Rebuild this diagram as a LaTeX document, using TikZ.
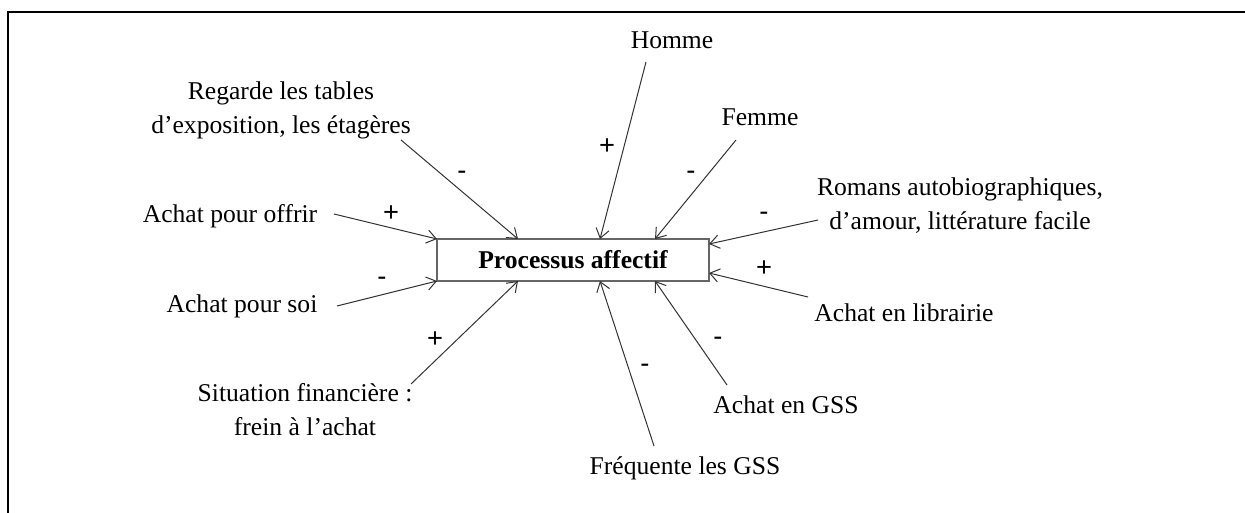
\documentclass[tikz,border=0pt]{standalone}
\usepackage{fontspec}
\setmainfont{Liberation Serif}
\newfontfamily\signfont{Liberation Sans}
\usetikzlibrary{arrows.meta}
\begin{document}
\begin{tikzpicture}[x=0.75pt,y=-0.75pt,
  lbl/.style={font=\fontsize{19.2}{25.5}\selectfont, align=center, inner sep=0pt},
  sgn/.style={font=\signfont\fontsize{20.5}{21}\selectfont, inner sep=0pt},
  link/.style={draw=black!80, line width=0.75pt, -{Straight Barb[length=7pt,width=10pt]}},
  ]
\useasboundingbox (0,0) rectangle (1245,513);
\draw[line width=1.5pt] (8,513) -- (8,12) -- (1245,12);

\node[draw=black!60, line width=1pt, minimum width=204pt, minimum height=31.5pt, inner sep=0pt,
  font=\fontsize{19.2}{22}\selectfont\bfseries] (box) at (573,260) {Processus affectif};

% end points on the box
\coordinate (eHomme) at (600,239);
\coordinate (eFemme) at (655,239);
\coordinate (eRegarde) at (518,239);
\coordinate (eOffrir) at (437,239);
\coordinate (eSoi) at (437,281);
\coordinate (eSit) at (518,281);
\coordinate (eFreq) at (600,281);
\coordinate (eGSS) at (655,281);
\coordinate (eLib) at (709,273);
\coordinate (eRom) at (709,244);

% texts
\node[lbl] (homme) at (672,40) {Homme};
\node[lbl] (femme) at (760,117) {Femme};
\node[lbl] (regarde) at (281,110) {Regarde les tables\\d'exposition, les étagères};
\node[lbl] (offrir) at (230,216) {Achat pour offrir};
\node[lbl] (soi) at (242,306) {Achat pour soi};
\node[lbl] (sit) at (305,410) {Situation financière :\\frein à l'achat};
\node[lbl] (freq) at (685,468) {Fréquente les GSS};
\node[lbl] (gss) at (786,405) {Achat en GSS};
\node[lbl] (lib) at (904,313) {Achat en librairie};
\node[lbl] (rom) at (960,206) {Romans autobiographiques,\\d'amour, littérature facile};

% start points
\coordinate (sHomme) at (646,62);
\coordinate (sFemme) at (736,140);
\coordinate (sRegarde) at (401,140);
\coordinate (sOffrir) at (334,214);
\coordinate (sSoi) at (337,306);
\coordinate (sSit) at (411,384);
\coordinate (sFreq) at (654,446);
\coordinate (sGSS) at (727,385);
\coordinate (sLib) at (808,297);
\coordinate (sRom) at (818,220);

\draw[link] (sHomme) -- (eHomme);
\draw[link] (sFemme) -- (eFemme);
\draw[link] (sRegarde) -- (eRegarde);
\draw[link] (sOffrir) -- (eOffrir);
\draw[link] (sSoi) -- (eSoi);
\draw[link] (sSit) -- (eSit);
\draw[link] (sFreq) -- (eFreq);
\draw[link] (sGSS) -- (eGSS);
\draw[link] (sLib) -- (eLib);
\draw[link] (sRom) -- (eRom);

% signs
\node[sgn] (pHomme) at (607,147) {+};
\node[sgn] (pFemme) at (691,175) {-};
\node[sgn] (pRegarde) at (462,175) {-};
\node[sgn] (pOffrir) at (391,214) {+};
\node[sgn] (pSoi) at (382,281) {-};
\node[sgn] (pSit) at (435,340) {+};
\node[sgn] (pFreq) at (645,368) {-};
\node[sgn] (pGSS) at (718,341) {-};
\node[sgn] (pLib) at (764,269) {+};
\node[sgn] (pRom) at (764,216) {-};
\end{tikzpicture}
\end{document}
